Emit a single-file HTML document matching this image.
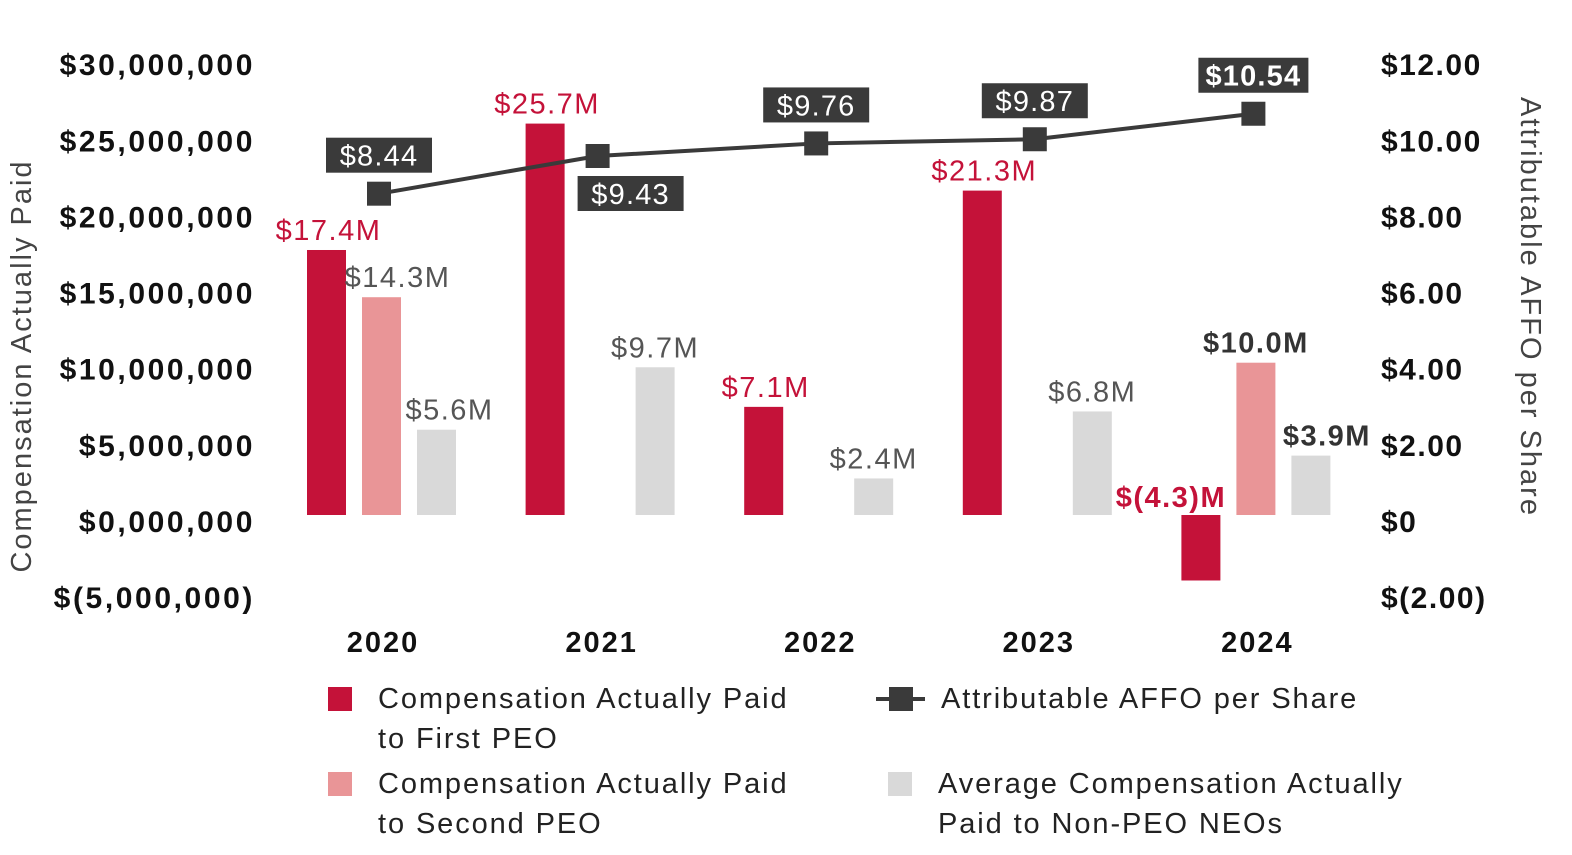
<!DOCTYPE html>
<html><head><meta charset="utf-8"><style>
body{margin:0;background:#fff;}
svg{display:block;font-family:"Liberation Sans",sans-serif;}
</style></head><body>
<svg id="chart" width="1572" height="855">
<g id="axes"></g><g id="bars"></g><g id="line"></g><g id="legend"></g>
</svg>
<script>
const years=["2020","2021","2022","2023","2024"];
const firstPeo=[17.4,25.7,7.1,21.3,-4.3];
const secondPeo=[14.3,null,null,null,10.0];
const nonPeo=[5.6,9.7,2.4,6.8,3.9];
const affo=[8.44,9.43,9.76,9.87,10.54];
const leftTicks=[30,25,20,15,10,5,0,-5];
const leftTickLabels=["$30,000,000","$25,000,000","$20,000,000","$15,000,000","$10,000,000","$5,000,000","$0,000,000","$(5,000,000)"];
const rightTicks=[12,10,8,6,4,2,0,-2];
const rightTickLabels=["$12.00","$10.00","$8.00","$6.00","$4.00","$2.00","$0","$(2.00)"];
const firstLabels=["$17.4M","$25.7M","$7.1M","$21.3M","$(4.3)M"];
const secondLabels=["$14.3M",null,null,null,"$10.0M"];
const nonLabels=["$5.6M","$9.7M","$2.4M","$6.8M","$3.9M"];
const affoLabels=["$8.44","$9.43","$9.76","$9.87","$10.54"];

const NS="http://www.w3.org/2000/svg";
const zeroY=515, pxPerM=15.23, pxPerD=38.07;
const yL=v=>zeroY-v*pxPerM;
const yR=v=>zeroY-v*pxPerD;
const xC=i=>381+i*218.6;
function mk(parent,tag,attrs,text){const e=document.createElementNS(NS,tag);for(const k in attrs)e.setAttribute(k,attrs[k]);if(text!=null)e.textContent=text;document.getElementById(parent).appendChild(e);return e;}
const RED="#c41239",PINK="#e99597",GRAY="#d9d9d9",DARK="#3a3a3a";

leftTicks.forEach((t,i)=>{const e=mk("axes","text",{x:255,y:yL(t)+17,"text-anchor":"end","font-size":30,"font-weight":"bold","letter-spacing":2.6,fill:"#111"},leftTickLabels[i]);

});
rightTicks.forEach((t,i)=>{const e=mk("axes","text",{x:1381,y:yR(t)+17,"font-size":30,"font-weight":"bold","letter-spacing":1.5,fill:"#111"},rightTickLabels[i]);

});
years.forEach((y,i)=>{const e=mk("axes","text",{x:xC(i)+2,y:652,"text-anchor":"middle","font-size":29,"font-weight":"bold","letter-spacing":2,fill:"#111"},y);

});
let t1=mk("axes","text",{transform:"translate(31,366) rotate(-90)","text-anchor":"middle","font-size":29,"letter-spacing":2,fill:"#444"},"Compensation Actually Paid");


let t2=mk("axes","text",{transform:"translate(1521,307) rotate(90)","text-anchor":"middle","font-size":29,"letter-spacing":2,fill:"#444"},"Attributable AFFO per Share");



function bar(i,off,v,color,label,lblColor,name,dx){
  if(v==null)return;
  const x=xC(i)+off, top=Math.min(yL(v),zeroY), h=Math.abs(yL(v)-zeroY);
  const r=mk("bars","rect",{x:x,y:top,width:39,height:h,fill:color});
  
  
  const bold=i===4;
  const ly=v>=0?yL(v)-10:zeroY-8;
  const t=mk("bars","text",{x:x+19.5+dx,y:ly,"text-anchor":"middle","font-size":29,"letter-spacing":1.5,"font-weight":bold?"bold":"normal",fill:lblColor},label);
  
  
}
years.forEach((y,i)=>{
  bar(i,-74,firstPeo[i],RED,firstLabels[i],RED,'bar-first-peo-'+y,firstPeo[i]<0?-30:2);
  bar(i,-19,secondPeo[i],PINK,secondLabels[i],i===4?"#333":"#555",'bar-second-peo-'+y,i===4?0:16);
  bar(i,36,nonPeo[i],GRAY,nonLabels[i],i===4?"#333":"#555",'bar-non-peo-'+y,i===4?16:(i===0?13:0));
});
const pts=affo.map((v,i)=>[xC(i)-2,yR(v)]);
const pl=mk("line","polyline",{points:pts.map(p=>p.join(",")).join(" "),fill:"none",stroke:DARK,"stroke-width":4});


pts.forEach((p,i)=>{
  const m=mk("line","rect",{x:p[0]-12,y:p[1]-12,width:24,height:24,fill:DARK});
  
  
  const below=i===1;
  const w=i===4?110:106;
  const by=below?p[1]+20:p[1]-56, bx=p[0]-w/2+(below?33:0);
  const b=mk("line","rect",{x:bx,y:by,width:w,height:35,fill:DARK});
  
  
  const t=mk("line","text",{x:bx+w/2,y:by+28,"text-anchor":"middle","font-size":29,"letter-spacing":1.2,"font-weight":i===4?"bold":"normal",fill:"#fff"},affoLabels[i]);
  
  
});
function sq(x,y,c,name){const r=mk("legend","rect",{x:x,y:y,width:24,height:24,fill:c});}
function lt(x,y,s){const t=mk("legend","text",{x:x,y:y,"font-size":29,"letter-spacing":1.9,fill:"#222"},s);}
sq(328,687,RED,'legend-first-peo');lt(378,708,"Compensation Actually Paid");lt(378,748,"to First PEO");
sq(328,772,PINK,'legend-second-peo');lt(378,793,"Compensation Actually Paid");lt(378,833,"to Second PEO");
const ll=mk("legend","line",{x1:876,y1:699,x2:925,y2:699,stroke:DARK,"stroke-width":4});


sq(889,687,DARK,'legend-affo-marker');lt(941,708,"Attributable AFFO per Share");
sq(888,772,GRAY,'legend-non-peo');lt(938,793,"Average Compensation Actually");lt(938,833,"Paid to Non-PEO NEOs");
</script>
</body></html>
